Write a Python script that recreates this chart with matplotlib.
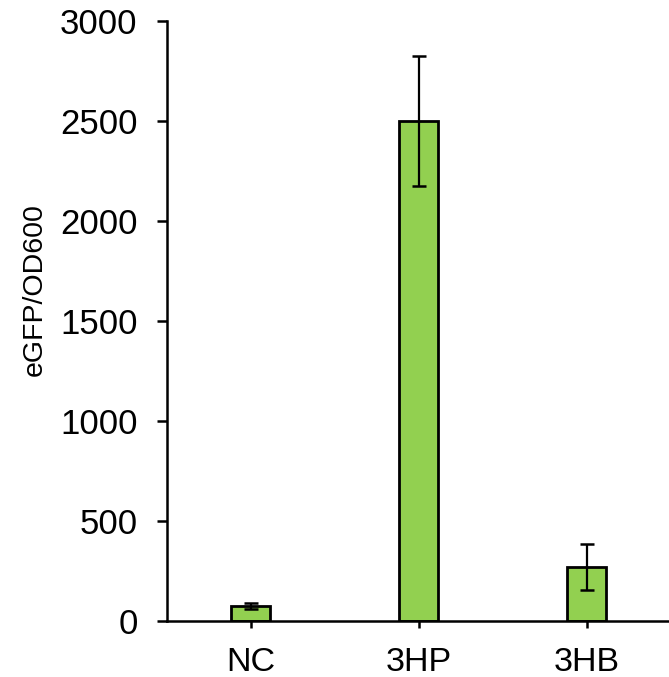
import matplotlib
matplotlib.use("Agg")
import matplotlib.pyplot as plt
import numpy as np

plt.rcParams['font.family'] = ['Liberation Sans', 'DejaVu Sans']

categories = ['NC', '3HP', '3HB']
means = [75, 2500, 272]
errors = [15, 325, 115]
y_ticks = [0, 500, 1000, 1500, 2000, 2500, 3000]

bar_color = '#92D050'

fig = plt.figure(figsize=(6.69, 6.77), dpi=100)
ax = fig.add_axes([167 / 669, 1 - 621 / 677, 502 / 669, 600 / 677])

x = np.arange(len(categories))
ax.bar(x, means, width=0.232, color=bar_color, edgecolor='black', linewidth=2, zorder=2)
ax.errorbar(x, means, yerr=errors, fmt='none', ecolor='black', elinewidth=1.6,
            capsize=4.8, capthick=1.8, zorder=3)

ax.set_xlim(-0.5, 2.49)
ax.set_ylim(0, 3000)
ax.set_yticks(y_ticks)
ax.set_xticks(x)
ax.set_xticklabels(categories)

for side in ['top', 'right']:
    ax.spines[side].set_visible(False)
for side in ['left', 'bottom']:
    ax.spines[side].set_linewidth(1.8)

ax.tick_params(axis='y', direction='out', length=7.2, width=1.8, pad=14, labelsize=25)
ax.tick_params(axis='x', direction='out', length=5, width=1.8, pad=14, labelsize=24.5)

fig.text(35 / 669, 1 - 290 / 677, 'eGFP/OD600', rotation=90, ha='center', va='center', fontsize=20.5)

fig.savefig('out.png', dpi=100)
